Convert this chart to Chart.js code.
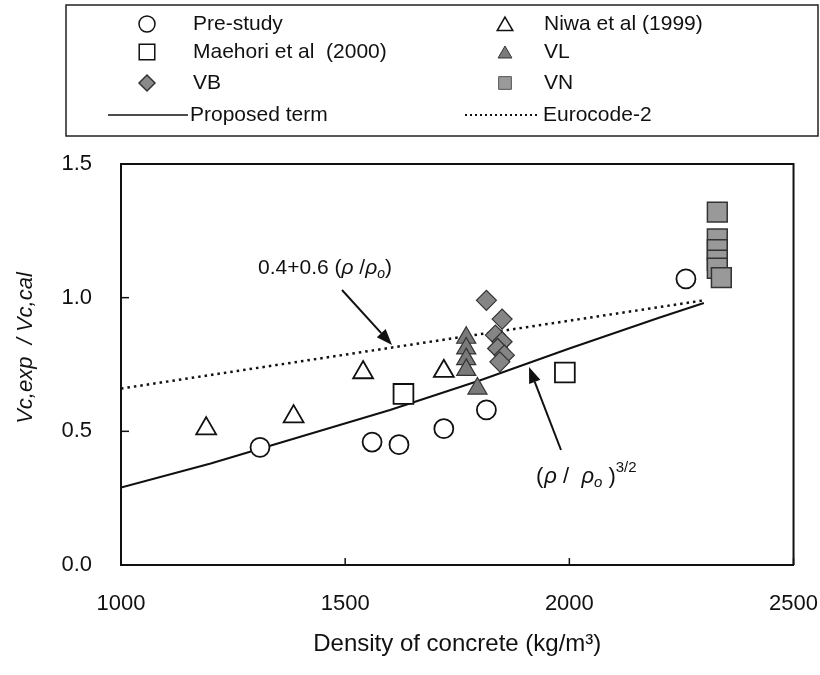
<!DOCTYPE html>
<html><head><meta charset="utf-8">
<script src="https://cdn.jsdelivr.net/npm/chart.js@4.4.1/dist/chart.umd.min.js"></script>
<style>html,body{margin:0;padding:0;background:#fff}#wrap{width:820px;height:675px;position:relative}</style>
</head><body><div id="wrap"><canvas id="c" width="820" height="675"></canvas></div>
<script>
const xTickValues=[1000,1500,2000,2500];
const yTickValues=[0,0.5,1.0,1.5];
const preStudyX=[1310,1560,1620,1720,1815,2260];
const preStudyY=[0.44,0.46,0.45,0.51,0.58,1.07];
const niwaX=[1190,1385,1540,1720];
const niwaY=[0.51,0.555,0.72,0.725];
const maehoriX=[1630,1990];
const maehoriY=[0.64,0.72];
const vlX=[1770,1770,1770,1770,1795];
const vlY=[0.85,0.81,0.77,0.73,0.66];
const vbX=[1815,1850,1835,1850,1840,1855,1845];
const vbY=[0.99,0.92,0.86,0.835,0.81,0.785,0.76];
const vnX=[2330,2330,2330,2330,2330,2339];
const vnY=[1.32,1.22,1.18,1.14,1.11,1.075];
const proposedX=[1000,1200,1400,1600,1800,2000,2200,2300];
const proposedY=[0.29,0.38,0.48,0.58,0.69,0.81,0.925,0.98];
const eurocodeX=[1000,2300];
const eurocodeY=[0.66,0.99];

const FONT='"Liberation Sans", Arial, sans-serif';
const pts=(xs,ys)=>xs.map((x,i)=>({x:x,y:ys[i]}));

function shape(ctx,style,r,x,y,fill,stroke,bw){
  ctx.save();
  ctx.fillStyle=fill; ctx.strokeStyle=stroke; ctx.lineWidth=bw;
  ctx.beginPath();
  if(style==='circle'){ctx.arc(x,y,r,0,Math.PI*2);}
  else if(style==='rect'){const s=r*Math.SQRT1_2;ctx.rect(x-s,y-s,2*s,2*s);}
  else if(style==='rectRot'){ctx.moveTo(x-r,y);ctx.lineTo(x,y-r);ctx.lineTo(x+r,y);ctx.lineTo(x,y+r);ctx.closePath();}
  else if(style==='triangle'){const w=r*Math.sin(Math.PI/3);ctx.moveTo(x,y-r);ctx.lineTo(x+w,y+r/2);ctx.lineTo(x-w,y+r/2);ctx.closePath();}
  ctx.fill(); ctx.stroke(); ctx.restore();
}
function rich(ctx,segs,x,y){
  let cx=x;
  segs.forEach(s=>{
    ctx.font=(s.it?'italic ':'')+s.size+'px '+FONT;
    ctx.fillText(s.t,cx,y+(s.dy||0));
    cx+=ctx.measureText(s.t).width+(s.gap||0);
  });
}
function arrow(ctx,x1,y1,x2,y2){
  const ang=Math.atan2(y2-y1,x2-x1), L=16, W=6;
  const bx=x2-L*Math.cos(ang), by=y2-L*Math.sin(ang);
  ctx.beginPath();ctx.moveTo(x1,y1);ctx.lineTo(bx,by);ctx.lineWidth=2;ctx.stroke();
  ctx.beginPath();ctx.moveTo(x2,y2);
  ctx.lineTo(bx+W*Math.sin(ang),by-W*Math.cos(ang));
  ctx.lineTo(bx-W*Math.sin(ang),by+W*Math.cos(ang));
  ctx.closePath();ctx.fill();
}

const deco={id:'deco',afterDraw(chart){
  const ctx=chart.ctx, a=chart.chartArea, xs=chart.scales.x, ys=chart.scales.y;
  ctx.save();
  ctx.strokeStyle='#111'; ctx.fillStyle='#111'; ctx.lineWidth=2;
  ctx.beginPath();ctx.moveTo(a.left,a.top);ctx.lineTo(a.right,a.top);ctx.lineTo(a.right,a.bottom);ctx.stroke();
  ctx.lineWidth=1.5;
  xTickValues.forEach(v=>{const p=xs.getPixelForValue(v);ctx.beginPath();ctx.moveTo(p,a.bottom);ctx.lineTo(p,a.bottom-7);ctx.stroke();});
  yTickValues.forEach(v=>{const p=ys.getPixelForValue(v);ctx.beginPath();ctx.moveTo(a.left,p);ctx.lineTo(a.left+8,p);ctx.stroke();});
  // y title
  ctx.save();ctx.translate(26,348);ctx.rotate(-Math.PI/2);
  ctx.font='italic 22px '+FONT;ctx.textAlign='center';ctx.textBaseline='middle';
  ctx.fillText('Vc,exp  / Vc,cal',0,0);ctx.restore();
  // legend box
  ctx.lineWidth=1.5;ctx.strokeStyle='#222';
  ctx.strokeRect(66,5,752,131);
  ctx.textBaseline='middle';ctx.textAlign='left';ctx.font='21px '+FONT;ctx.fillStyle='#111';
  const rows=[24,52,83,115];
  shape(ctx,'circle',8,147,rows[0],'#fff','#111',1.5);
  shape(ctx,'rect',11,147,rows[1],'#fff','#111',1.5);
  shape(ctx,'rectRot',8,147,rows[2],'#8a8a8a','#333',1.5);
  ctx.beginPath();ctx.moveTo(108,rows[3]);ctx.lineTo(188,rows[3]);ctx.lineWidth=1.5;ctx.strokeStyle='#111';ctx.stroke();
  ctx.fillStyle='#111';ctx.font='21px '+FONT;
  ctx.fillText('Pre-study',193,rows[0]);
  ctx.fillText('Maehori et al  (2000)',193,rows[1]);
  ctx.fillText('VB',193,rows[2]);
  ctx.fillText('Proposed term',190,rows[3]);
  const c2=505;
  shape(ctx,'triangle',9,c2,rows[0]+2,'#fff','#111',1.5);
  shape(ctx,'triangle',8,c2,rows[1]+2,'#7a7a7a','#333',1);
  shape(ctx,'rect',9,c2,rows[2],'#9a9a9a','#555',1);
  ctx.save();ctx.setLineDash([2,3]);ctx.lineWidth=2;ctx.strokeStyle='#111';
  ctx.beginPath();ctx.moveTo(465,rows[3]);ctx.lineTo(540,rows[3]);ctx.stroke();ctx.restore();
  ctx.fillStyle='#111';ctx.font='21px '+FONT;
  ctx.fillText('Niwa et al (1999)',544,rows[0]);
  ctx.fillText('VL',544,rows[1]);
  ctx.fillText('VN',544,rows[2]);
  ctx.fillText('Eurocode-2',543,rows[3]);
  // annotations
  ctx.textBaseline='alphabetic';ctx.strokeStyle='#111';ctx.fillStyle='#111';
  rich(ctx,[{t:'0.4+0.6 (',size:21},{t:'ρ',size:21,it:1},{t:' /',size:21},{t:'ρ',size:21,it:1},{t:'o',size:14,it:1,dy:4},{t:')',size:21}],258,274);
  arrow(ctx,342,290,392,345);
  rich(ctx,[{t:'(',size:22,gap:1},{t:'ρ',size:22,it:1},{t:' /  ',size:22},{t:'ρ',size:22,it:1},{t:'o',size:15,it:1,dy:4},{t:' )',size:22},{t:'3/2',size:15,dy:-11}],536,483);
  arrow(ctx,561,450,529,367);
  ctx.restore();
}};

new Chart(document.getElementById('c'),{
  type:'scatter',
  data:{datasets:[
    {label:'Pre-study',data:pts(preStudyX,preStudyY),pointStyle:'circle',pointRadius:9.5,backgroundColor:'#fff',borderColor:'#111',borderWidth:1.8,order:1},
    {label:'Niwa et al (1999)',data:pts(niwaX,niwaY),pointStyle:'triangle',pointRadius:11.5,backgroundColor:'#fff',borderColor:'#111',borderWidth:1.8,order:1},
    {label:'Maehori et al (2000)',data:pts(maehoriX,maehoriY),pointStyle:'rect',pointRadius:14,backgroundColor:'#fff',borderColor:'#111',borderWidth:1.8,order:1},
    {label:'VL',data:pts(vlX,vlY),pointStyle:'triangle',pointRadius:11,backgroundColor:'#7a7a7a',borderColor:'#333',borderWidth:1.2,order:1},
    {label:'VB',data:pts(vbX,vbY),pointStyle:'rectRot',pointRadius:10,backgroundColor:'#858585',borderColor:'#333',borderWidth:1.2,order:1},
    {label:'VN',data:pts(vnX,vnY),pointStyle:'rect',pointRadius:14,backgroundColor:'#999',borderColor:'#333',borderWidth:1.5,order:1},
    {label:'Proposed term',data:pts(proposedX,proposedY),showLine:true,pointRadius:0,borderColor:'#111',borderWidth:2,fill:false,order:5},
    {label:'Eurocode-2',data:pts(eurocodeX,eurocodeY),showLine:true,pointRadius:0,borderColor:'#111',borderWidth:2.5,borderDash:[2.5,4],fill:false,order:5}
  ]},
  options:{
    responsive:false,animation:false,devicePixelRatio:1,
    layout:{padding:{left:0,right:0,top:164,bottom:0}},
    plugins:{legend:{display:false},tooltip:{enabled:false}},
    scales:{
      x:{type:'linear',min:1000,max:2500,
        afterBuildTicks:s=>{s.ticks=xTickValues.map(v=>({value:v}));},
        afterFit:s=>{s.height=110;},
        grid:{display:false,drawTicks:true,tickLength:24},
        border:{display:true,color:'#111',width:2},
        ticks:{padding:2,color:'#111',font:{family:FONT,size:22},callback:v=>String(v)},
        title:{display:true,text:'Density of concrete (kg/m³)',color:'#111',font:{family:FONT,size:24},padding:{top:0,bottom:16}}
      },
      y:{type:'linear',min:0,max:1.5,
        afterBuildTicks:s=>{s.ticks=yTickValues.map(v=>({value:v}));},
        afterFit:s=>{s.width=121;},
        grid:{display:false,drawTicks:true,tickLength:27},
        border:{display:true,color:'#111',width:2},
        ticks:{padding:2,color:'#111',font:{family:FONT,size:22},callback:v=>Number(v).toFixed(1)}
      }
    }
  },
  plugins:[deco]
});
</script></body></html>
